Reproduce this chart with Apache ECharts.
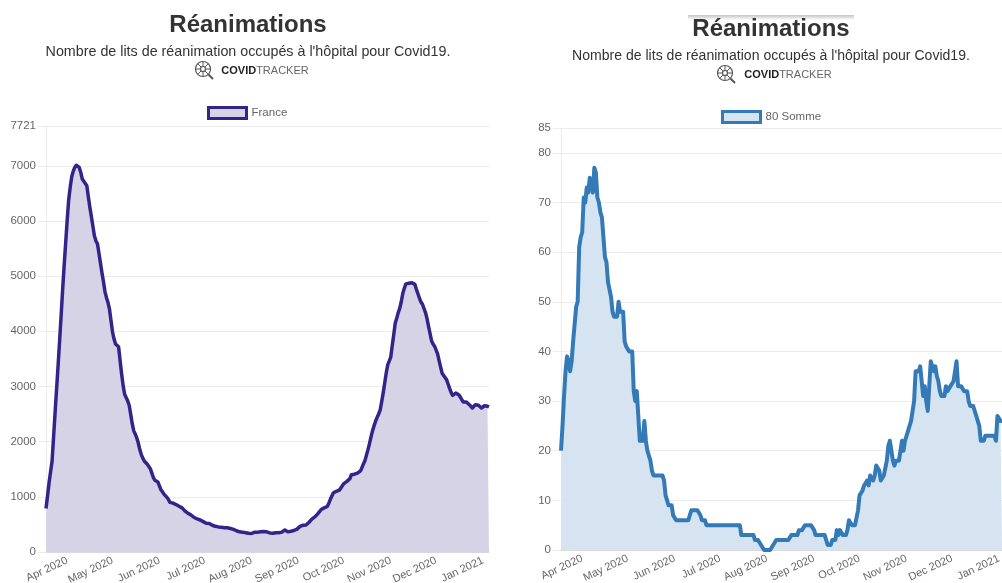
<!DOCTYPE html>
<html>
<head>
<meta charset="utf-8">
<title>Réanimations</title>
<script src="https://cdn.jsdelivr.net/npm/echarts@6/dist/echarts.min.js"></script>
<style>
  html, body { margin: 0; padding: 0; background: #fff; }
  #chart { width: 1002px; height: 583px; }
</style>
</head>
<body>
<div id="chart"></div>
<script>
var startDate = "2020-03-18";
var monthStarts = ["2020-04-01", "2020-05-01", "2020-06-01", "2020-07-01", "2020-08-01", "2020-09-01", "2020-10-01", "2020-11-01", "2020-12-01", "2021-01-01"];
var monthLabels = ["Apr 2020", "May 2020", "Jun 2020", "Jul 2020", "Aug 2020", "Sep 2020", "Oct 2020", "Nov 2020", "Dec 2020", "Jan 2021"];

// lits occupés par jour, depuis startDate
var franceValues = [
  790, 1010, 1250, 1450, 1640, 2080, 2520, 2950, 3380, 3830,
  4280, 4750, 5190, 5600, 6010, 6380, 6610, 6800, 6900, 6970,
  7010, 7020, 6970, 6880, 6760, 6720, 6690, 6640, 6440, 6250,
  6080, 5910, 5730, 5640, 5590, 5420, 5240, 5060, 4900, 4720,
  4610, 4520, 4400, 4190, 3990, 3860, 3770, 3750, 3720, 3470,
  3230, 3020, 2860, 2800, 2740, 2660, 2500, 2330, 2200, 2140,
  2070, 1980, 1860, 1770, 1700, 1650, 1620, 1590, 1560, 1510,
  1430, 1350, 1300, 1280, 1270, 1200, 1130, 1090, 1050, 1020,
  990, 950, 900, 890, 885, 870, 860, 850, 830, 815,
  800, 770, 740, 715, 700, 685, 670, 650, 625, 610,
  600, 590, 580, 565, 550, 530, 520, 520, 515, 500,
  485, 470, 465, 460, 455, 450, 447, 445, 440, 438,
  440, 430, 425, 420, 410, 400, 385, 370, 365, 365,
  360, 355, 350, 345, 340, 340, 335, 350, 360, 365,
  360, 360, 365, 365, 370, 360, 365, 350, 345, 340,
  340, 345, 350, 350, 350, 355, 360, 360, 400, 375,
  365, 360, 375, 385, 390, 405, 415, 440, 465, 475,
  485, 490, 490, 500, 540, 575, 600, 620, 640, 670,
  700, 725, 770, 790, 800, 815, 825, 880, 950, 1010,
  1070, 1090, 1100, 1110, 1120, 1160, 1200, 1240, 1265, 1280,
  1300, 1330, 1400, 1420, 1410, 1410, 1430, 1450, 1470, 1530,
  1600, 1660, 1760, 1860, 1970, 2090, 2200, 2290, 2370, 2440,
  2500, 2570, 2720, 2880, 3060, 3240, 3390, 3460, 3530, 3740,
  3940, 4150, 4240, 4340, 4420, 4540, 4690, 4780, 4860, 4880,
  4870, 4880, 4880, 4900, 4850, 4760, 4680, 4600, 4530, 4490,
  4470, 4340, 4230, 4090, 3960, 3830, 3770, 3730, 3700, 3590,
  3470, 3350, 3240, 3200, 3170, 3120, 3040, 2960, 2890, 2840,
  2860, 2880, 2880, 2850, 2810, 2760, 2720, 2720, 2720, 2710,
  2670, 2640, 2610, 2640, 2670, 2690, 2660, 2640, 2610, 2610,
  2650, 2670, 2640, 2630
];
var sommeValues = [
  20, 25, 31, 36, 39, 38, 36, 38, 42, 42,
  49, 50, 61, 63, 64, 71, 70, 73, 72, 75,
  75, 72, 77, 76, 71, 70, 68, 67, 63, 59,
  58, 54, 54, 51, 48, 47, 47, 47, 50, 48,
  48, 48, 42, 41, 41, 40, 40, 40, 32, 30,
  32, 27, 22, 22, 22, 26, 22, 20, 19, 18,
  16, 15, 15, 15, 15, 15, 15, 15, 14, 11,
  10, 9, 9, 9, 7, 7, 6, 6, 6, 6,
  6, 6, 6, 6, 6, 6, 8, 8, 8, 8,
  8, 8, 7, 6, 6, 6, 5, 5, 5, 5,
  5, 5, 5, 5, 5, 5, 5, 5, 5, 5,
  5, 5, 5, 5, 5, 5, 5, 5, 5, 3,
  3, 3, 3, 3, 3, 3, 3, 3, 2, 2,
  2, 2, 1, 1, 0, 0, 0, 0, 0, 0,
  1, 1, 2, 2, 2, 2, 2, 2, 2, 2,
  2, 2, 3, 3, 3, 3, 3, 4, 4, 4,
  4, 5, 5, 5, 5, 5, 5, 4, 3, 3,
  3, 3, 3, 3, 3, 2, 1, 1, 1, 2,
  2, 2, 4, 3, 4, 4, 3, 3, 3, 4,
  6, 6, 5, 5, 5, 5, 8, 11, 11, 12,
  13, 13, 14, 13, 15, 15, 14, 15, 17, 17,
  16, 14, 14, 15, 15, 18, 21, 22, 22, 18,
  17, 18, 18, 18, 20, 22, 20, 22, 23, 24,
  24, 26, 28, 30, 36, 36, 36, 37, 34, 31,
  33, 30, 28, 28, 38, 38, 36, 37, 35, 34,
  32, 31, 31, 31, 33, 32, 32, 33, 33, 34,
  36, 38, 33, 33, 33, 33, 32, 32, 32, 30,
  29, 29, 29, 28, 27, 26, 25, 22, 22, 22,
  23, 23, 23, 23, 23, 23, 23, 22, 27, 27,
  26, 26
];

var FONT = "'Liberation Sans', Arial, sans-serif";
var PURPLE = "#35238a";
var BLUE = "#337ab7";

function dayList(count) {
  var list = [];
  var t = Date.parse(startDate + "T00:00:00Z");
  for (var i = 0; i < count; i++) {
    list.push(new Date(t + i * 86400000).toISOString().slice(0, 10));
  }
  return list;
}

function makeX(gridIndex, days) {
  return {
    type: "category",
    gridIndex: gridIndex,
    data: days,
    boundaryGap: false,
    axisLine: { lineStyle: { color: "#d4d4d8", width: 1.5 } },
    axisTick: { show: false },
    splitLine: { show: false },
    axisLabel: {
      rotate: 25,
      margin: 8,
      color: "#666",
      fontFamily: FONT,
      fontSize: 11,
      interval: function (index, value) {
        return monthStarts.indexOf(value) >= 0;
      },
      formatter: function (value) {
        return monthLabels[monthStarts.indexOf(value)];
      }
    }
  };
}

function makeY(gridIndex, max, interval, margin) {
  return {
    type: "value",
    gridIndex: gridIndex,
    min: 0,
    max: max,
    interval: interval,
    axisLine: { show: true, lineStyle: { color: "#ececec", width: 1 } },
    axisTick: { show: true, length: 8, lineStyle: { color: "#ececec" } },
    splitLine: { show: true, lineStyle: { color: "#ececec", width: 1 } },
    axisLabel: {
      margin: margin,
      color: "#666",
      fontFamily: FONT,
      fontSize: 11.5,
      showMaxLabel: true,
      formatter: function (value) {
        return String(value);
      }
    }
  };
}

function makeSeries(name, values, color, fill, index, width) {
  return {
    name: name,
    type: "line",
    xAxisIndex: index,
    yAxisIndex: index,
    data: values,
    showSymbol: false,
    lineStyle: { color: color, width: width, join: "round" },
    itemStyle: { color: fill, borderColor: color, borderWidth: 3 },
    areaStyle: { color: fill, opacity: 1 }
  };
}

function makeLegend(name, left, top, color, fill) {
  return {
    data: [{ name: name, icon: "rect" }],
    left: left,
    top: top,
    padding: 0,
    itemWidth: 38,
    itemHeight: 11,
    itemGap: 0,
    itemStyle: { color: fill, borderColor: color, borderWidth: 3 },
    textStyle: { color: "#666", fontFamily: FONT, fontSize: 11.5 }
  };
}

function makeTitles(cx, y0, subSize) {
  return [
    {
      text: "Réanimations",
      left: cx,
      top: y0 + 1,
      textAlign: "center",
      padding: 0,
      textStyle: { color: "#333", fontFamily: FONT, fontSize: 24, fontWeight: "bold" }
    },
    {
      text: "Nombre de lits de réanimation occupés à l'hôpital pour Covid19.",
      left: cx,
      top: y0 + 33,
      textAlign: "center",
      padding: 0,
      textStyle: { color: "#333", fontFamily: FONT, fontSize: subSize, fontWeight: "normal" }
    },
    {
      text: "{a|COVID}{b|TRACKER}",
      left: cx + 17,
      top: y0 + 53,
      textAlign: "center",
      padding: 0,
      textStyle: {
        rich: {
          a: { color: "#222", fontFamily: FONT, fontSize: 11, fontWeight: "bold" },
          b: { color: "#666", fontFamily: FONT, fontSize: 11, fontWeight: "normal" }
        }
      }
    }
  ];
}

// petite loupe avec le virus dedans, à côté de COVIDTRACKER
function makeIcon(x, y) {
  var stroke = { stroke: "#555", fill: "none", lineWidth: 1.2 };
  var items = [
    { type: "circle", shape: { cx: x, cy: y, r: 7.5 }, style: stroke },
    { type: "circle", shape: { cx: x, cy: y, r: 2.5 }, style: stroke },
    { type: "line", shape: { x1: x + 5.5, y1: y + 5.5, x2: x + 10, y2: y + 10 }, style: { stroke: "#555", lineWidth: 2 } }
  ];
  for (var i = 0; i < 8; i++) {
    var a = i * Math.PI / 4;
    items.push({
      type: "line",
      shape: { x1: x + 2.5 * Math.cos(a), y1: y + 2.5 * Math.sin(a), x2: x + 7 * Math.cos(a), y2: y + 7 * Math.sin(a) },
      style: { stroke: "#555", lineWidth: 1 }
    });
  }
  return items;
}

var chart = echarts.init(document.getElementById("chart"));
chart.setOption({
  animation: false,
  backgroundColor: "#fff",
  title: makeTitles(248, 12, 14.3).concat(makeTitles(771, 16, 14.05)),
  legend: [
    makeLegend("France", 207, 106, PURPLE, "#d6d3e7"),
    makeLegend("80 Somme", 721, 110, BLUE, "#d6e4f1")
  ],
  grid: [
    { left: 46, top: 126, width: 443, height: 426, outerBoundsMode: "none" },
    { left: 561, top: 128, width: 441, height: 422, outerBoundsMode: "none" }
  ],
  xAxis: [makeX(0, dayList(franceValues.length)), makeX(1, dayList(sommeValues.length))],
  yAxis: [makeY(0, 7721, 1000, 10), makeY(1, 85, 10, 10)],
  series: [
    makeSeries("France", franceValues, PURPLE, "#d6d3e7", 0, 3.5),
    makeSeries("80 Somme", sommeValues, BLUE, "#d6e4f1", 1, 4)
  ],
  graphic: makeIcon(203, 69).concat(makeIcon(725, 73)).concat([
    {
      type: "rect",
      shape: { x: 688, y: 15, width: 166, height: 5 },
      style: {
        fill: new echarts.graphic.LinearGradient(0, 0, 0, 1, [
          { offset: 0, color: "#c4c4c4" },
          { offset: 1, color: "#ffffff" }
        ])
      }
    }
  ])
});
</script>
</body>
</html>
